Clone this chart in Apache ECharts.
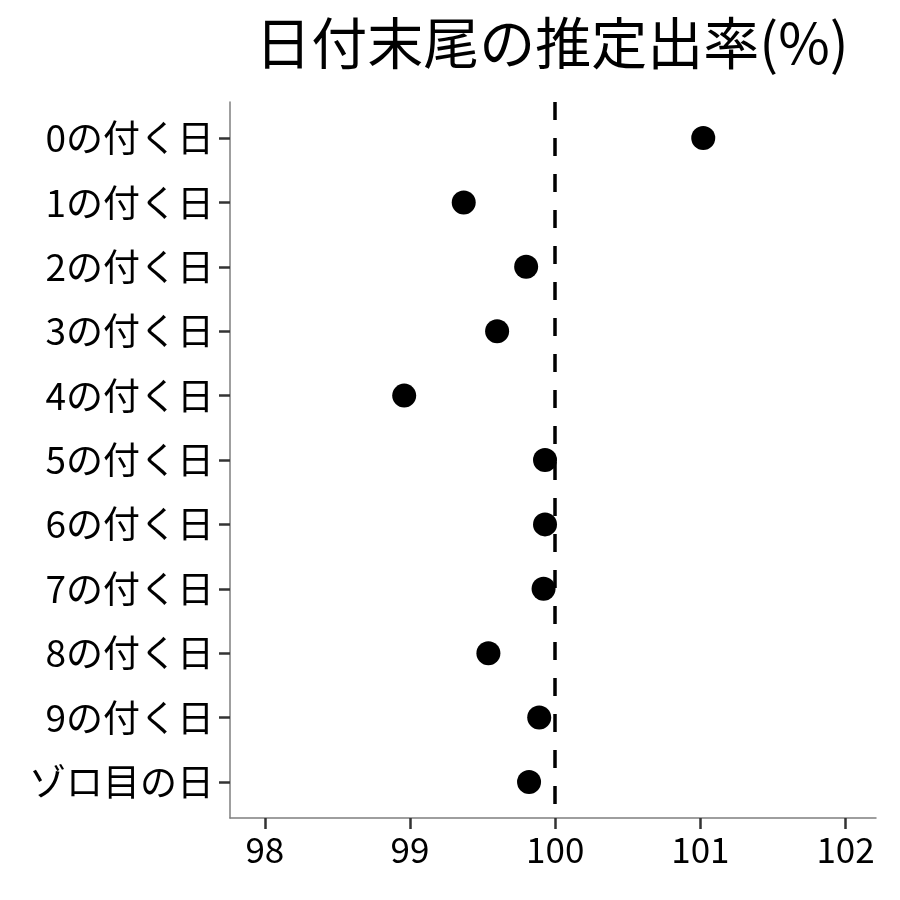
<!DOCTYPE html>
<html>
<head>
<meta charset="utf-8">
<script src="https://cdn.jsdelivr.net/npm/echarts@6/dist/echarts.min.js"></script>
<style>html,body{margin:0;padding:0;background:#fff}#c{width:900px;height:900px}</style>
</head>
<body>
<div id="c"></div>
<script>
const categories = ["0の付く日","1の付く日","2の付く日","3の付く日","4の付く日","5の付く日","6の付く日","7の付く日","8の付く日","9の付く日","ゾロ目の日"];
const rates = [101.02, 99.37, 99.80, 99.60, 98.96, 99.93, 99.93, 99.92, 99.54, 99.89, 99.82];
const xTicks = [98, 99, 100, 101, 102];
const refValue = 100;
const titleText = "日付末尾の推定出率(%)";

const font = '"Noto Sans CJK JP", "Noto Sans", sans-serif';
const chart = echarts.init(document.getElementById('c'), null, {renderer: 'canvas'});
const yIdx = categories.map((_, i) => i);
chart.setOption({
  animation: false,
  backgroundColor: '#fff',
  title: {
    text: titleText, left: 547, top: 10, textAlign: 'center',
    textStyle: {fontFamily: font, fontSize: 56, fontWeight: 'normal', color: '#000'}
  },
  grid: {left: 230, right: 24, top: 102, bottom: 82, containLabel: false},
  xAxis: {
    type: 'value', min: 97.76, max: 102.21,
    splitLine: {show: false},
    axisLine: {show: true, onZero: false, lineStyle: {color: '#7f7f7f', width: 1.5}},
    axisTick: {show: true, length: 11, customValues: xTicks, lineStyle: {color: '#333', width: 2.5}},
    axisLabel: {customValues: xTicks, margin: 14, fontFamily: font, fontSize: 35, color: '#000'}
  },
  yAxis: {
    type: 'value', min: -0.56, max: 10.56, inverse: true,
    splitLine: {show: false},
    axisLine: {show: true, onZero: false, lineStyle: {color: '#7f7f7f', width: 1.5}},
    axisTick: {show: true, length: 11, customValues: yIdx, lineStyle: {color: '#333', width: 2.5}},
    axisLabel: {customValues: yIdx, margin: 16, fontFamily: font, fontSize: 37, color: '#000',
      formatter: v => categories[Math.round(v)] || ''}
  },
  series: [{
    type: 'scatter',
    symbol: 'circle', symbolSize: 24,
    itemStyle: {color: '#000', opacity: 1},
    data: rates.map((r, i) => [r, i]),
    z: 2,
    markLine: {
      silent: true, symbol: 'none', label: {show: false},
      lineStyle: {color: '#000', width: 3.5, type: [18, 18]},
      data: [{xAxis: refValue}],
      z: 3
    }
  }]
});
</script>
</body>
</html>
